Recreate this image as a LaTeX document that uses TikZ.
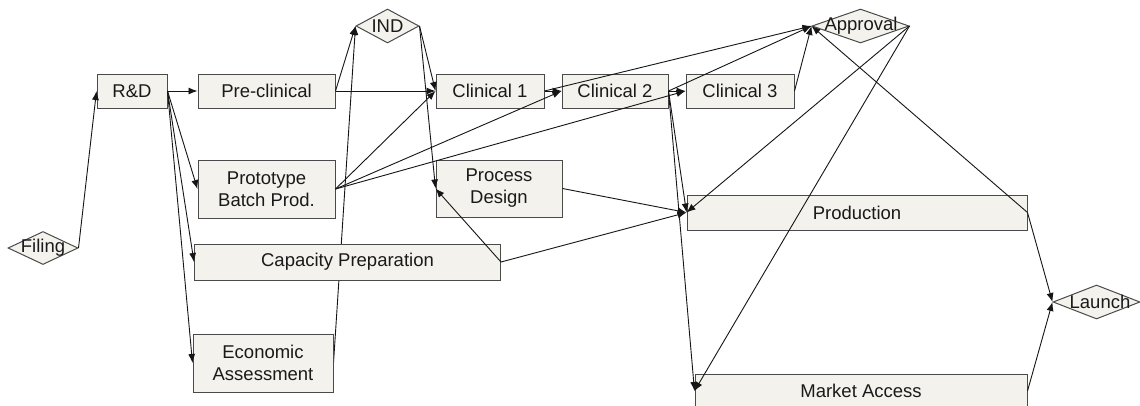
\documentclass[tikz,border=0pt]{standalone}
\usepackage{fontspec}
\setmainfont{Liberation Sans}
\usetikzlibrary{arrows.meta,shapes.geometric}
\definecolor{boxfill}{HTML}{F3F2EC}
\definecolor{boxline}{HTML}{4A4A4A}
\definecolor{edgecol}{HTML}{151515}
\definecolor{txt}{HTML}{1A1A1A}
\pgfdeclarelayer{background}
\pgfsetlayers{background,main}
\begin{document}
\begin{tikzpicture}[x=1pt,y=-1pt,
  box/.style={draw=boxline,fill=boxfill,line width=1pt,inner sep=0pt,align=center,
    font=\fontsize{18.5}{22}\selectfont,text=txt},
  dia/.style={draw=boxline,fill=boxfill,line width=1pt,diamond,inner sep=0pt},
  dlabel/.style={font=\fontsize{18.5}{22}\selectfont,text=txt,inner sep=0pt},
  edge/.style={draw=edgecol,line width=0.9pt,-{Latex[length=9pt,width=7pt]}}
]
\clip (0,0) rectangle (1140,405);
% boxes
\node[box,minimum width=70pt,minimum height=34pt] (rd) at (132,91) {R\&D};
\node[box,minimum width=137pt,minimum height=34pt] (pre) at (266.5,91) {Pre-clinical};
\node[box,minimum width=108pt,minimum height=34pt] (c1) at (490,91) {Clinical 1};
\node[box,minimum width=106pt,minimum height=34pt] (c2) at (615,91) {Clinical 2};
\node[box,minimum width=108pt,minimum height=34pt] (c3) at (740,91) {Clinical 3};
\node[box,minimum width=137pt,minimum height=58pt] (proto) at (266.5,189) {Prototype\\Batch Prod.};
\node[box,minimum width=126pt,minimum height=57pt] (pd) at (499,188.5) {Process\\Design};
\node[box,minimum width=306pt,minimum height=36pt] (cap) at (347.5,262) {Capacity Preparation};
\node[box,minimum width=140pt,minimum height=58pt] (econ) at (263,363) {Economic\\Assessment};
\node[box,minimum width=340pt,minimum height=35pt] (prod) at (857,212.5) {Production};
\node[box,minimum width=332pt,minimum height=34pt] (ma) at (861,391) {Market Access};
% diamonds
\node[dia,minimum width=70pt,minimum height=33pt] (fil) at (43,248) {};
\node[dlabel] (filt) at (fil) {Filing};
\node[dia,minimum width=63pt,minimum height=34pt] (ind) at (387.5,26) {};
\node[dlabel] (indt) at (ind) {IND};
\node[dia,minimum width=97pt,minimum height=34pt] (app) at (860.5,26) {};
\node[dlabel] (appt) at (861,26) {Approval};
\node[dia,minimum width=87pt,minimum height=34pt] (lau) at (1096.5,302) {};
\node[dlabel] (laut) at (1100,302) {Launch};
% edges
\begin{pgfonlayer}{background}
\fill[white] (0,0) rectangle (1140,405);
\draw[edge] (econ.east) -- (ind.west);
\end{pgfonlayer}
\draw[edge] (fil.east) -- (rd.west);
\draw[edge] (rd.east) -- (pre.west);
\draw[edge] (rd.east) -- (proto.west);
\draw[edge] (rd.east) -- (cap.west);
\draw[edge] (rd.east) -- (econ.west);
\draw[edge] (pre.east) -- (ind.west);
\draw[edge] (pre.east) -- (c1.west);
\draw[edge] (ind.east) -- (c1.west);
\draw[edge] (ind.east) -- (pd.west);
\draw[edge] (proto.east) -- (c1.west);
\draw[edge] (proto.east) -- (c2.west);
\draw[edge] (proto.east) -- (c3.west);
\draw[edge] (cap.east) -- (pd.west);
\draw[edge] (cap.east) -- (prod.west);
\draw[edge] (pd.east) -- (prod.west);
\draw[edge] (c1.east) -- (c2.west);
\draw[edge] (c1.east) -- (app.west);
\draw[edge] (c2.east) -- (c3.west);
\draw[edge] (c2.east) -- (app.west);
\draw[edge] (c2.east) -- (prod.west);
\draw[edge] (c2.east) -- (ma.west);
\draw[edge] (c3.east) -- (app.west);
\draw[edge] (app.east) -- (prod.west);
\draw[edge] (app.east) -- (ma.west);
\draw[edge] (prod.east) -- (app.west);
\draw[edge] (prod.east) -- (lau.west);
\draw[edge] (ma.east) -- (lau.west);
\end{tikzpicture}
\end{document}
